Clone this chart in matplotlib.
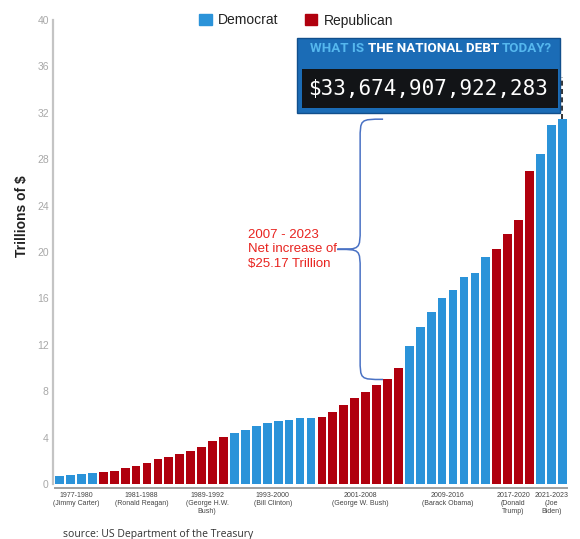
import matplotlib
matplotlib.use("Agg")
import matplotlib.pyplot as plt
from matplotlib.patches import Patch, Rectangle, PathPatch
from matplotlib.path import Path

plt.rcParams['font.family'] = ['Liberation Sans', 'DejaVu Sans']

# US national debt, trillions of dollars, 1977-2023
years = list(range(1977, 2024))
debt = [0.71, 0.78, 0.83, 0.91,
        1.00, 1.14, 1.37, 1.56, 1.82, 2.13, 2.35, 2.60,
        2.86, 3.23, 3.67, 4.06,
        4.41, 4.69, 4.97, 5.22, 5.41, 5.53, 5.66, 5.67,
        5.81, 6.23, 6.78, 7.38, 7.93, 8.51, 9.01, 10.02,
        11.91, 13.56, 14.79, 16.07, 16.74, 17.82, 18.15, 19.57,
        20.24, 21.52, 22.72, 26.95,
        28.43, 30.93, 31.45]

group_labels = ["1977-1980\n(Jimmy Carter)", "1981-1988\n(Ronald Reagan)",
                "1989-1992\n(George H.W.\nBush)", "1993-2000\n(Bill Clinton)",
                "2001-2008\n(George W. Bush)", "2009-2016\n(Barack Obama)",
                "2017-2020\n(Donald\nTrump)", "2021-2023\n(Joe\nBiden)"]
group_sizes = [4, 8, 4, 8, 8, 8, 4, 3]
group_party = ['D', 'R', 'R', 'D', 'R', 'D', 'R', 'D']

BLUE = '#2b93d9'
RED = '#b0000e'

party = []
for n, p in zip(group_sizes, group_party):
    party += [p] * n
colors = [BLUE if p == 'D' else RED for p in party]

fig = plt.figure(figsize=(5.8, 5.39), dpi=100)
W, H = 580, 539
ax = fig.add_axes([53 / W, 1 - 484 / H, 517 / W, 464 / H])

x = list(range(len(years)))
ax.bar(x, debt, width=0.8, color=colors, zorder=2)
ax.set_xlim(-0.6, 46.7)
ax.set_ylim(0, 40)
ax.set_yticks(range(0, 41, 4))
ax.set_xticks([])
ax.tick_params(axis='y', length=0, pad=3, labelsize=7.5, labelcolor='#a8a8a8')
for s in ['top', 'right', 'bottom']:
    ax.spines[s].set_visible(False)
ax.spines['left'].set_color('#c4c4c4')
ax.spines['left'].set_linewidth(1.6)

fig.text(22 / W, 1 - 216 / H, 'Trillions of $', rotation=90, fontsize=10,
         fontweight='bold', color='#222222', ha='center', va='center')

# term groups under the bars
start = 0
for lab, n in zip(group_labels, group_sizes):
    x0, x1 = start - 0.45, start + n - 1 + 0.45
    ax.plot([x0, x1], [-0.35, -0.35], color='#a0a0a0', lw=1.4, clip_on=False)
    ax.text((x0 + x1) / 2, -0.7, lab, ha='center', va='top', fontsize=5,
            color='#444444', linespacing=1.2)
    start += n

# brace from 2007 to 2023
xs, xe, xt = 27.5, 29.6, 25.4
yt, yb = debt[-1], debt[30]
ym = (yt + yb) / 2
r = 1.8
verts = [(xe, yt), (xs, yt), (xs, yt), (xs, yt - r),
         (xs, ym + r), (xs, ym), (xs, ym), (xt, ym),
         (xs, ym), (xs, ym), (xs, ym - r),
         (xs, yb + r), (xs, yb), (xs, yb), (xe, yb)]
codes = [Path.MOVETO, Path.CURVE4, Path.CURVE4, Path.CURVE4,
         Path.LINETO, Path.CURVE4, Path.CURVE4, Path.CURVE4,
         Path.CURVE4, Path.CURVE4, Path.CURVE4,
         Path.LINETO, Path.CURVE4, Path.CURVE4, Path.CURVE4]
ax.add_patch(PathPatch(Path(verts, codes), fill=False, edgecolor='#4a72c4', lw=1.1, zorder=3))
ax.text(17.2, ym, '2007 - 2023\nNet increase of\n$25.17 Trillion', color='#e8231f',
        fontsize=9.5, ha='left', va='center', linespacing=1.3)

# dashed line to the last bar
ax.plot([46, 46], [debt[-1], 35.1], color='#111111', lw=1.2, ls=(0, (3, 2)), clip_on=False)

# legend
handles = [Patch(color=BLUE), Patch(color=RED)]
fig.legend(handles, ['Democrat', 'Republican'], loc='center left',
           bbox_to_anchor=(199 / W, 1 - 20.5 / H), ncol=2, frameon=False,
           fontsize=10, handlelength=0.9, handleheight=0.9, handletextpad=0.45,
           columnspacing=1.9, borderpad=0, borderaxespad=0, labelcolor='#222222')

# banner
fig.patches.append(Rectangle((297 / W, 1 - 113 / H), 263 / W, 75 / H, transform=fig.transFigure,
                             facecolor='#1b6cb6', edgecolor='#114f8c', lw=1, zorder=5))
fig.patches.append(Rectangle((302 / W, 1 - 108 / H), 256 / W, 39 / H, transform=fig.transFigure,
                             facecolor='#121417', edgecolor='none', zorder=6))
title_font = dict(fontsize=9.6, fontweight='bold', family=['Roboto', 'DejaVu Sans'], zorder=7)
t1 = fig.text(310 / W, 1 - 48.5 / H, 'WHAT IS ', color='#55b7ee', va='center', ha='left',
              **title_font)
t2 = fig.text(0, 0, 'THE NATIONAL DEBT ', color='white', **title_font)
t3 = fig.text(0, 0, 'TODAY?', color='#55b7ee', **title_font)
fig.canvas.draw()
r1 = t1.get_window_extent()
t2.set_position((r1.x1 / fig.bbox.width, 1 - 48.5 / H))
t2.set_va('center')
fig.canvas.draw()
r2 = t2.get_window_extent()
t3.set_position((r2.x1 / fig.bbox.width, 1 - 48.5 / H))
t3.set_va('center')

fig.text(428 / W, 1 - 89 / H, '$33,674,907,922,283', color='white', fontsize=15,
         family=['DejaVu Sans Mono'], ha='center', va='center', zorder=7)

fig.text(63 / W, 1 - 534 / H, 'source: US Department of the Treasury', fontsize=7.5,
         color='#333333', family=['Open Sans', 'DejaVu Sans'], va='center', ha='left')

fig.savefig('out.png', dpi=100)
